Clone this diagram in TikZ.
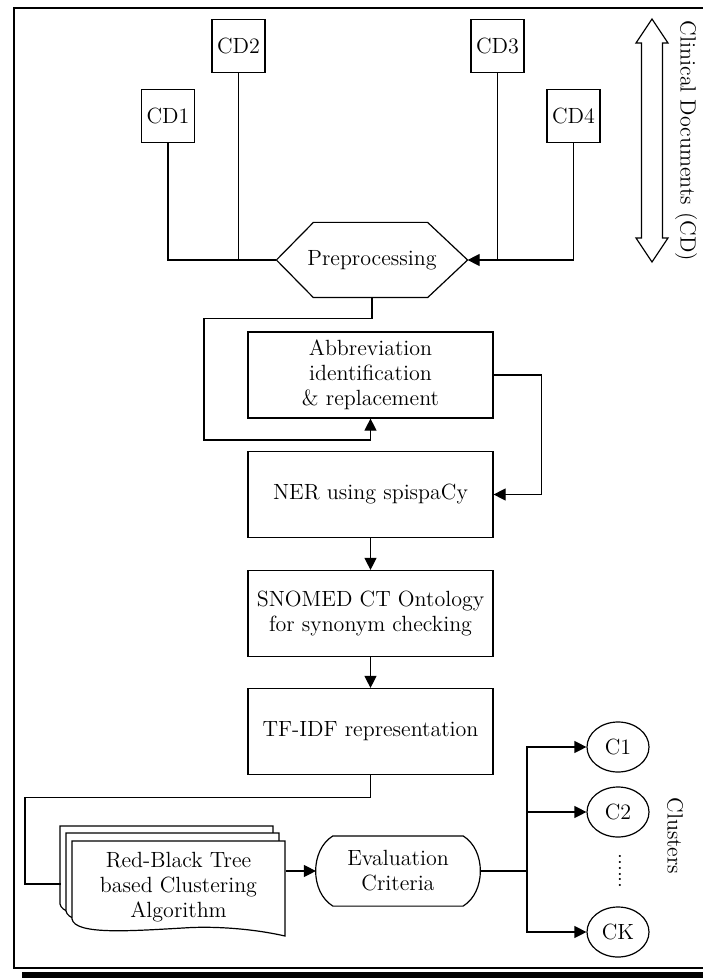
\documentclass[tikz,border=0pt]{standalone}
\usepackage{tikz}
\usetikzlibrary{arrows.meta,shapes.geometric,calc}

\begin{document}
\begin{tikzpicture}[x=0.5pt, y=-0.5pt, line width=0.6pt,
    every node/.style={font=\fontsize{11}{12.5}\selectfont, inner sep=1pt},
    cdbox/.style={rectangle, draw, minimum width=26.5pt, minimum height=26.5pt},
    procbox/.style={rectangle, draw, align=center, minimum width=122.5pt, minimum height=43pt},
    clus/.style={ellipse, draw, minimum width=31pt, minimum height=25pt},
    arr/.style={-{Triangle[length=6pt,width=6pt]}}]

        \useasboundingbox (0,0) rectangle (702,978);

        % outer frame with its shadow along the bottom
        \fill (22,971.5) rectangle (720,982);
        \draw[line width=0.9pt] (14,8) rectangle (720,968);

        % the four clinical documents
        \node[cdbox] (cd1) at (168,116) {CD1};
        \node[cdbox] (cd2) at (238.5,46) {CD2};
        \node[cdbox] (cd3) at (497.5,46) {CD3};
        \node[cdbox] (cd4) at (573.5,116) {CD4};

        % preprocessing hexagon
        \node[minimum width=95pt, minimum height=37pt] (prep) at (372,260) {Preprocessing};
        \draw (prep.west) -- ($(prep.north west)+(37,0)$) -- ($(prep.north east)+(-40,0)$) -- (prep.east)
              -- ($(prep.south east)+(-40,0)$) -- ($(prep.south west)+(37,0)$) -- cycle;

        % processing steps
        \node[procbox] (abbr) at (370.5,375) {Abbreviation\\identification\\\& replacement};
        \node[procbox] (ner) at (370.5,494.5) {NER using spispaCy};
        \node[procbox] (snomed) at (370.5,613.5) {SNOMED CT Ontology\\for synonym checking};
        \node[procbox] (tfidf) at (370.5,731.5) {TF-IDF representation};

        % stacked documents for the clustering algorithm
        \foreach \dx/\dy in {-12/-15, -6/-8, 0/0}
          \draw[fill=white, shift={(\dx,\dy)}] (72,841) -- (285,841) -- (285,936)
                .. controls (250,928) and (210,926) .. (183,928)
                .. controls (130,931) and (75,935) .. (72,919) -- cycle;
        \node[align=center, minimum width=106.5pt] (rbt) at (178.5,887) {Red-Black Tree\\based Clustering\\Algorithm};
        \coordinate (rbtback) at (61,884);

        % evaluation criteria
        \node[align=center, minimum width=81.5pt, minimum height=34.5pt] (eval) at (398,871) {Evaluation\\Criteria};
        \draw ($(eval.north west)+(17,0)$) -- ($(eval.north east)+(-17,0)$)
              .. controls +(23,14) and +(23,-14) .. ($(eval.south east)+(-17,0)$)
              -- ($(eval.south west)+(17,0)$)
              .. controls +(-23,-14) and +(-23,14) .. ($(eval.north west)+(17,0)$);

        % clusters
        \node[clus] (c1) at (618,747) {C1};
        \node[clus] (c2) at (618,812) {C2};
        \node[clus] (ck) at (618,932) {CK};
        \node[rotate=-90] (dots) at (620,871) {......};
        \node[rotate=-90] (clusters) at (675,836) {Clusters};

        % label for the documents with its double arrow
        \node[rotate=-90] (cdlabel) at (686,141) {Clinical Documents (CD)};
        \draw (652,19) -- (668,43) -- (662.5,43) -- (662.5,238) -- (668,238) -- (652,262)
              -- (636,238) -- (641.5,238) -- (641.5,43) -- (636,43) -- cycle;

        % connections
        \draw (cd1.south) |- (prep.west);
        \draw (cd2.south) -- (cd2.south |- prep.west);
        \draw[arr] (cd4.south) |- (prep.east);
        \draw (cd3.south) -- (cd3.south |- prep.east);
        \draw[arr] (prep.south) -- ++(0,21) -| (204,440) -| (abbr.south);
        \draw[arr] (abbr.east) -- ++(48,0) |- (ner.east);
        \draw[arr] (ner) -- (snomed);
        \draw[arr] (snomed) -- (tfidf);
        \draw (tfidf.south) -- ++(0,22) -| (25,884) -- (rbtback);
        \draw[arr] (eval.west -| rbt.east) -- (eval.west);
        \coordinate (split) at (527,871);
        \draw (eval.east) -- (split);
        \draw[arr] (split) |- (c1.west);
        \draw[arr] (split) |- (c2.west);
        \draw[arr] (split) |- (ck.west);
        \end{tikzpicture}
\end{document}
